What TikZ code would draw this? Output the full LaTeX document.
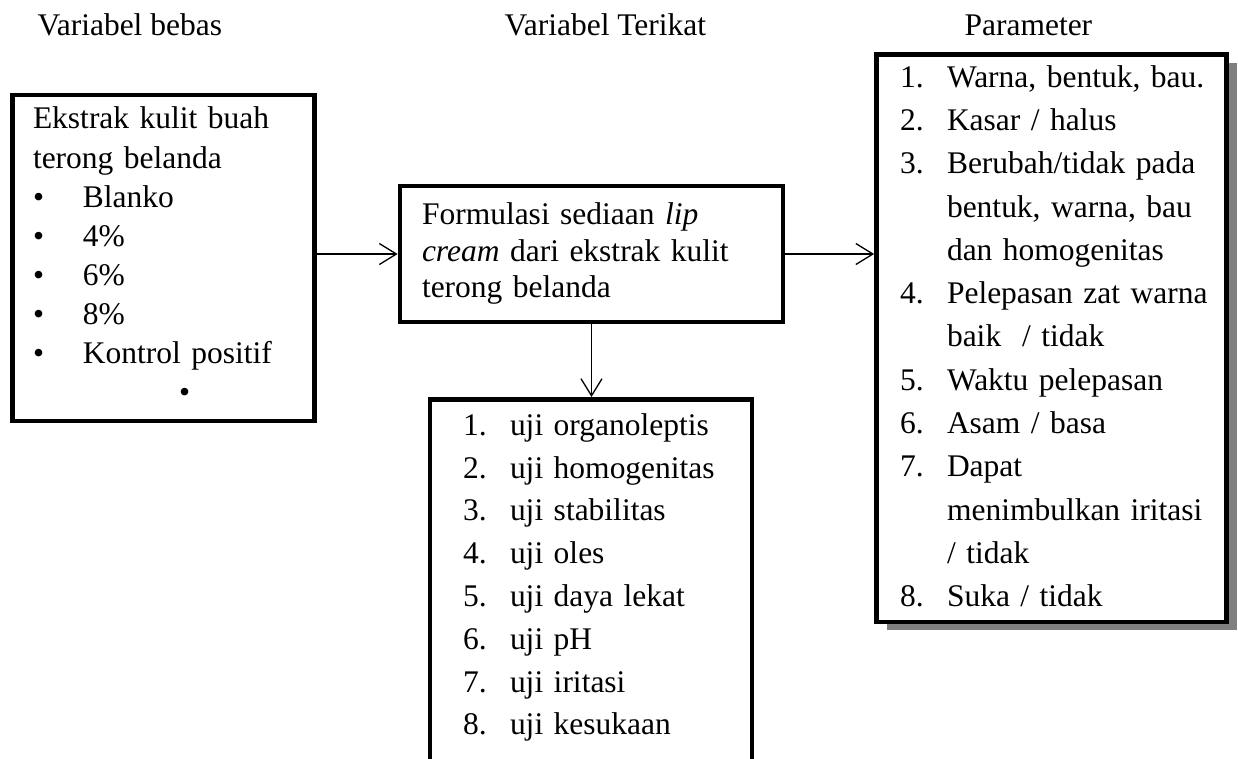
\documentclass[tikz,border=0pt]{standalone}
\usepackage{fontspec}
\setmainfont{Liberation Serif}
\usetikzlibrary{arrows.meta,shadows}
\newlength\pxu \setlength\pxu{0.381pt}
\begin{document}
\begin{tikzpicture}[x=0.381pt,y=-0.381pt,
  box/.style={draw, line width=1.8pt, align=left, inner ysep=0pt},
  arr/.style={line width=0.5pt, -{Straight Barb[length=6.5pt,width=8pt,line width=0.5pt]}},
  title/.style={inner sep=0pt, anchor=base west, font=\fontsize{12}{14}\selectfont}]
\useasboundingbox (0,0) rectangle (1238,758);

% titles
\node[title] (t1) at (37,35) {Variabel bebas};
\node[title] (t2) at (504,35) {Variabel Terikat};
\node[title] (t3) at (964,35) {Parameter};

% left box
\node[box, minimum width=302.5\pxu, minimum height=326\pxu, inner xsep=20.75\pxu,
      text width=261\pxu, font=\fontsize{12}{14.9}\selectfont] (L) at (163.5,258) {%
\begin{tabular}{@{}p{50\pxu}@{}l@{}}
\multicolumn{2}{@{}l@{}}{\rule{0pt}{\dimexpr 0.7\baselineskip+8\pxu}Ekstrak kulit buah}\\
\multicolumn{2}{@{}l@{}}{terong belanda}\\
•&Blanko\\
•&4\%\\
•&6\%\\
•&8\%\\
•&Kontrol positif\\
\multicolumn{2}{@{}l@{}}{\hspace{146\pxu}•}
\end{tabular}};

% middle box
\node[box, minimum width=383\pxu, minimum height=136\pxu, inner xsep=22\pxu,
      text width=339\pxu, font=\fontsize{12}{13.9}\selectfont] (M) at (591.5,254) {%
\begin{tabular}{@{}l@{}}
Formulasi sediaan \textit{lip}\\
\textit{cream} dari ekstrak kulit\\
terong belanda
\end{tabular}};

% parameter box
\node[box, fill=white, drop shadow={shadow xshift=10\pxu, shadow yshift=-8\pxu, fill=black, opacity=0.5},
      minimum width=350\pxu, minimum height=567.5\pxu, inner xsep=23.5\pxu,
      text width=303\pxu, font=\fontsize{12}{16.5}\selectfont] (P) at (1051.5,338.25) {%
\begin{tabular}{@{}p{47\pxu}@{}l@{}}
1.&Warna, bentuk, bau.\\
2.&Kasar / halus\\
3.&Berubah/tidak pada\\
&bentuk, warna, bau\\
&dan homogenitas\\
4.&Pelepasan zat warna\\
&baik\ \ / tidak\\
5.&Waktu pelepasan\\
6.&Asam / basa\\
7.&Dapat\\
&menimbulkan iritasi\\
&/ tidak\\
8.&Suka / tidak
\end{tabular}};

% bottom box
\node[box, anchor=north, minimum width=322\pxu, inner xsep=33\pxu, inner ysep=6\pxu,
      text width=256\pxu, font=\fontsize{12}{16.3}\selectfont] (B) at (591,397) {%
\begin{tabular}{@{}p{47\pxu}@{}l@{}}
1.&uji organoleptis\\
2.&uji homogenitas\\
3.&uji stabilitas\\
4.&uji oles\\
5.&uji daya lekat\\
6.&uji pH\\
7.&uji iritasi\\
8.&uji kesukaan\\[30pt]
\end{tabular}};

% connectors
\draw[arr] (L.east |- M.west) -- (M.west);
\draw[arr] (M.east) -- (M.east -| P.west);
\draw[arr] (M.south) -- (M.south |- B.north);
\end{tikzpicture}
\end{document}
